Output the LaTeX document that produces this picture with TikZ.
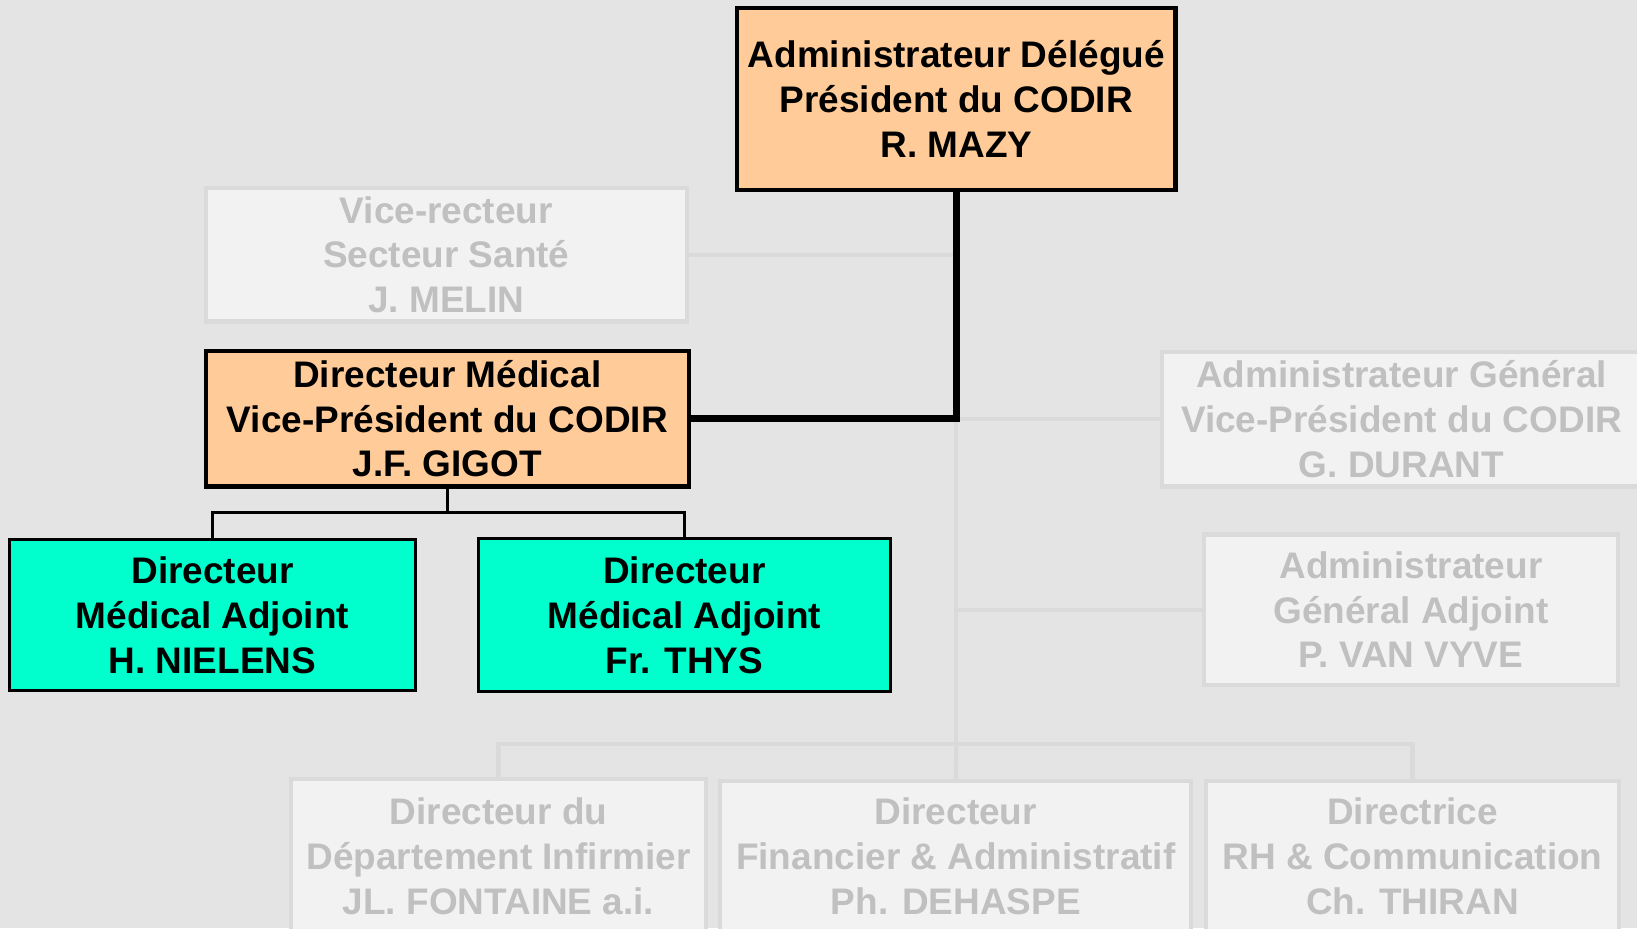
\documentclass[tikz,border=0pt]{standalone}
\usepackage{fontspec}
\setmainfont{Liberation Sans}
\usepackage{tikz}
\definecolor{peach}{HTML}{FFCC99}
\definecolor{aqua}{HTML}{00FFCC}
\definecolor{backgr}{HTML}{E4E4E4}
\definecolor{faintfill}{HTML}{F2F2F2}
\definecolor{faintline}{HTML}{DADADA}
\definecolor{fainttext}{HTML}{C0C0C0}
\begin{document}
\begin{tikzpicture}[x=1pt,y=-1pt,
		box/.style={rectangle,inner sep=0pt,align=center,font={\fontsize{35.4}{43}\selectfont\bfseries}},
		lead/.style={box,fill=peach,draw=black,line width=4pt},
		adj/.style={box,fill=aqua,draw=black,line width=3pt},
		faint/.style={box,fill=faintfill,draw=faintline,line width=4pt,text=fainttext},
		boss/.style={draw=black,line width=6.5pt},
		sub/.style={draw=black,line width=3pt},
		grey/.style={draw=faintline,line width=4pt}]
		\fill [backgr] (0,0) rectangle (1568,889);
		\useasboundingbox (0,0) rectangle (1568,889);
		% boxes
		\node (ad) at (916,95) [lead,minimum width=420,minimum height=174] {Administrateur Délégué\\Président du CODIR\\R. MAZY};
		\node (vr) at (427.5,244) [faint,minimum width=461,minimum height=128] {Vice-recteur\\Secteur Santé\\J. MELIN};
		\node (dm) at (428.5,401) [lead,minimum width=463,minimum height=130] {Directeur Médical\\Vice-Président du CODIR\\J.F. GIGOT};
		\node (nielens) at (203.5,589) [adj,minimum width=389,minimum height=144] {Directeur\\Médical Adjoint\\H. NIELENS};
		\node (thys) at (655.5,589) [adj,minimum width=395,minimum height=146] {Directeur\\Médical Adjoint\\Fr. THYS};
		\node (ag) at (1342.5,401.5) [faint,minimum width=459,minimum height=129] {Administrateur Général\\Vice-Président du CODIR\\G. DURANT};
		\node (aga) at (1351.5,584) [faint,minimum width=397,minimum height=144] {Administrateur\\Général Adjoint\\P. VAN VYVE};
		\node (di) at (477.5,820) [faint,minimum width=397,minimum height=148] {Directeur du\\Département Infirmier\\JL. FONTAINE a.i.};
		\node (fin) at (915.5,820) [faint,minimum width=451,minimum height=144] {Directeur\\Financier \& Administratif\\Ph. DEHASPE};
		\node (rh) at (1353,820) [faint,minimum width=396,minimum height=144] {Directrice\\RH \& Communication\\Ch. THIRAN};
		\coordinate (hub) at (ad.south |- dm.east);
		\coordinate (bar) at (916,713);
		% grey lines
		\draw [grey] (hub) -- (bar);
		\draw [grey] (vr.east) -- (vr.east -| hub);
		\draw [grey] (ag.west -| hub) -- (ag.west);
		\draw [grey] (aga.west -| hub) -- (aga.west);
		\draw [grey] (di.north) |- (bar) -| (rh.north);
		\draw [grey] (bar) -- (fin.north);
		% black lines
		\draw [boss] (ad.south) |- (dm.east);
		\draw [sub] (dm.south) -- ++(0,23) coordinate (fork);
		\draw [sub] (nielens.north) |- (fork) -| (thys.north);
\end{tikzpicture}
\end{document}
